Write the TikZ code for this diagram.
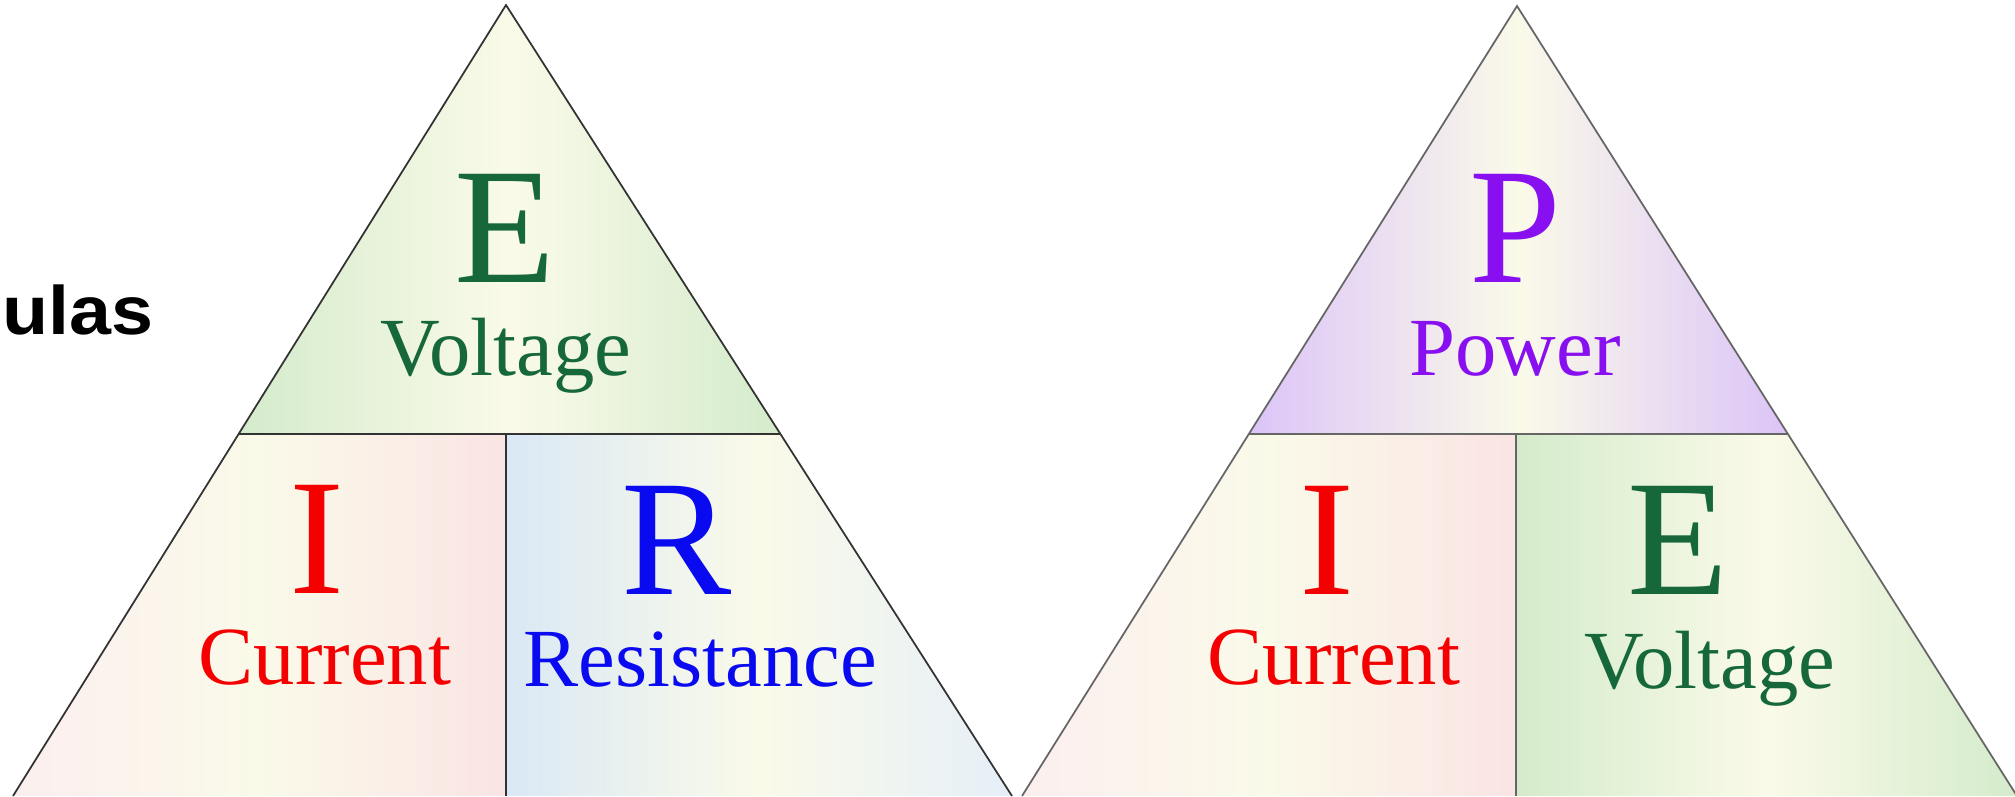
\documentclass[tikz,border=0pt]{standalone}
\usepackage{fontspec}
\setmainfont{Liberation Serif}
\newfontfamily\headfont{Liberation Sans}[FakeStretch=1.1]
\usepackage{tikz}
\definecolor{vgreen}{RGB}{22,104,58}
\definecolor{cred}{RGB}{245,0,0}
\definecolor{rblue}{RGB}{10,10,240}
\definecolor{ppurple}{RGB}{136,16,240}
\definecolor{cream}{RGB}{250,250,233}
\definecolor{gtint}{RGB}{212,235,203}
\definecolor{ptint}{RGB}{250,228,228}
\definecolor{btint}{RGB}{218,232,245}
\definecolor{vtint}{RGB}{220,196,248}
\tikzset{letter/.style={anchor=base, inner sep=0pt, font=\fontsize{47}{50}\selectfont},
         word/.style={anchor=base, inner sep=0pt, font=\fontsize{23.5}{26}\selectfont},
         head/.style={anchor=base east, inner sep=0pt, font=\headfont\bfseries\fontsize{19.5}{22}\selectfont},
         rim/.style={draw=#1, line width=0.5pt, line join=miter},
         rim/.default=black!80}

\begin{document}
\begin{tikzpicture}[x=0.01cm, y=-0.01cm]
\useasboundingbox (0,0) rectangle (2015,796);
\clip (0,0) rectangle (2015,796);
\node[head] (title) at (154,334) {ulas};
% Ohm's law triangle
\begin{scope}
\coordinate (oT) at (506,5);
\coordinate (oL) at (13,796);
\coordinate (oR) at (1012,796);
\coordinate (oML) at (239,434);
\coordinate (oMR) at (781,434);
\coordinate (oMC) at (506,434);
\coordinate (oB) at (506,796);
\shade[left color=gtint, right color=gtint, middle color=cream] (oT) -- (oMR) -- (oML) -- cycle;
\shade[left color=ptint!60, right color=ptint, middle color=cream] (oML) -- (oMC) -- (oB) -- (oL) -- cycle;
\shade[left color=btint, right color=btint!70, middle color=cream] (oMC) -- (oMR) -- (oR) -- (oB) -- cycle;
\draw[rim] (oL) -- (oT) -- (oR);
\draw[rim] (oML) -- (oMR) (oMC) -- (oB);
\node[letter, text=vgreen] (oE) at (505,282) {E};
\node[word, text=vgreen] (oEw) at (506,375) {Voltage};
\node[letter, text=cred] (oI) at (317,593) {I};
\node[word, text=cred] (oIw) at (325,684) {Current};
\node[letter, text=rblue] (oRes) at (677,594) {R};
\node[word, text=rblue] (oResw) at (700,686) {Resistance};
\end{scope}
% power triangle
\begin{scope}
\coordinate (pT) at (1517,6);
\coordinate (pL) at (1022,796);
\coordinate (pR) at (2017,796);
\coordinate (pML) at (1249,434);
\coordinate (pMR) at (1788,434);
\coordinate (pMC) at (1516,434);
\coordinate (pB) at (1516,796);
\shade[left color=vtint, right color=vtint, middle color=cream] (pT) -- (pMR) -- (pML) -- cycle;
\shade[left color=ptint!60, right color=ptint, middle color=cream] (pML) -- (pMC) -- (pB) -- (pL) -- cycle;
\shade[left color=gtint, right color=gtint, middle color=cream] (pMC) -- (pMR) -- (pR) -- (pB) -- cycle;
\draw[rim=black!60] (pL) -- (pT) -- (pR);
\draw[rim=black!60] (pML) -- (pMR) (pMC) -- (pB);
\node[letter, text=ppurple] (pP) at (1515,282) {P};
\node[word, text=ppurple] (pPw) at (1515,375) {Power};
\node[letter, text=cred] (pI) at (1327,594) {I};
\node[word, text=cred] (pIw) at (1334,684) {Current};
\node[letter, text=vgreen] (pE) at (1678,594) {E};
\node[word, text=vgreen] (pEw) at (1710,688) {Voltage};
\end{scope}
\end{tikzpicture}
\end{document}
